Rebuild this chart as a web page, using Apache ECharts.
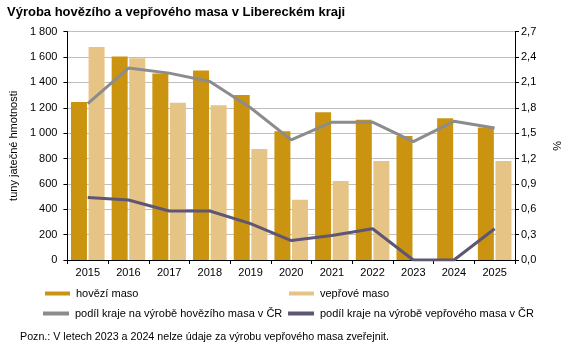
<!DOCTYPE html>
<html><head><meta charset="utf-8">
<script src="https://cdn.jsdelivr.net/npm/echarts@6/dist/echarts.min.js"></script>
<style>html,body{margin:0;padding:0;background:#fff}#c{width:570px;height:349px}</style>
</head><body><div id="c"></div>
<script>
const years = ['2015','2016','2017','2018','2019','2020','2021','2022','2023','2024','2025'];
const beefTons = [1245, 1605, 1470, 1495, 1300, 1015, 1165, 1105, 978, 1117, 1045];
const porkTons = [1680, 1590, 1240, 1220, 875, 475, 623, 781, null, null, 781];
const beefShare = [1.85, 2.27, 2.21, 2.11, 1.80, 1.42, 1.63, 1.63, 1.40, 1.64, 1.56];
const porkShare = [0.74, 0.71, 0.58, 0.58, 0.43, 0.23, 0.29, 0.37, 0, 0, 0.37];
const leftTicks = {min: 0, max: 1800, interval: 200};
const rightTicks = {min: 0, max: 2.7, interval: 0.3};

const FONT = '"Liberation Sans", Arial, sans-serif';
const C_BEEF = '#CA9410', C_PORK = '#E6C486', C_BL = '#8C8C8C', C_PL = '#5F5673';
const chart = echarts.init(document.getElementById('c'), null, {renderer: 'canvas'});
const legendBase = {itemWidth: 25, itemHeight: 4, icon: 'rect', itemGap: 10,
  textStyle: {fontFamily: FONT, fontSize: 11, color: '#000', padding: [0,0,0,1]}, padding: 0};
chart.setOption({
  animation: false,
  title: {text: 'Výroba hovězího a vepřového masa v Libereckém kraji', left: 7, top: 6, padding: 0,
    textStyle: {fontFamily: FONT, fontSize: 13, fontWeight: 'bold', color: '#000'}},
  grid: {left: 59, right: 51, top: 31.7, bottom: 89, containLabel: false},
  legend: [
    Object.assign({}, legendBase, {data: ['hovězí maso'], left: 45, top: 288}),
    Object.assign({}, legendBase, {data: ['vepřové maso'], left: 289, top: 288}),
    Object.assign({}, legendBase, {data: ['podíl kraje na výrobě hovězího masa v ČR'], left: 43, top: 308, itemWidth: 26}),
    Object.assign({}, legendBase, {data: ['podíl kraje na výrobě vepřového masa v ČR'], left: 288, top: 308, itemWidth: 26})
  ],
  graphic: [{type: 'text', left: 20, top: 332,
    style: {text: 'Pozn.: V letech 2023 a 2024 nelze údaje za výrobu vepřového masa zveřejnit.',
      font: '10.7px ' + FONT, fill: '#000'}}],
  xAxis: {type: 'category', data: years,
    axisLine: {lineStyle: {color: '#000', width: 1}},
    axisTick: {show: true, length: 4, lineStyle: {color: '#000'}},
    axisLabel: {fontFamily: FONT, fontSize: 11, color: '#000', margin: 7}},
  yAxis: [
    {type: 'value', min: leftTicks.min, max: leftTicks.max, interval: leftTicks.interval,
      name: 'tuny jatečné hmotnosti', nameLocation: 'middle', nameGap: 46, nameRotate: 90,
      nameTextStyle: {fontFamily: FONT, fontSize: 11, color: '#000'},
      axisLine: {show: true, lineStyle: {color: '#000'}},
      axisTick: {show: true, length: 4, lineStyle: {color: '#000'}},
      axisLabel: {fontFamily: FONT, fontSize: 11, color: '#000', margin: 10,
        formatter: v => String(v).replace(/\B(?=(\d{3})+(?!\d))/g, ' ')},
      splitLine: {show: true, lineStyle: {color: '#BFBFBF', width: 1}}},
    {type: 'value', min: rightTicks.min, max: rightTicks.max, interval: rightTicks.interval,
      name: '%', nameLocation: 'middle', nameGap: 36, nameRotate: -90,
      nameTextStyle: {fontFamily: FONT, fontSize: 11, color: '#000'},
      axisLine: {show: true, lineStyle: {color: '#000'}},
      axisTick: {show: true, length: 4, lineStyle: {color: '#000'}},
      axisLabel: {fontFamily: FONT, fontSize: 11, color: '#000', margin: 6,
        formatter: v => v.toFixed(1).replace('.', ',')},
      splitLine: {show: false}}
  ],
  series: [
    {name: 'hovězí maso', type: 'bar', data: beefTons, barWidth: 16, barGap: '10%',
      itemStyle: {color: C_BEEF}},
    {name: 'vepřové maso', type: 'bar', data: porkTons, barWidth: 16, barGap: '10%',
      itemStyle: {color: C_PORK}},
    {name: 'podíl kraje na výrobě hovězího masa v ČR', type: 'line', yAxisIndex: 1, data: beefShare,
      symbol: 'none', lineStyle: {color: C_BL, width: 3}, itemStyle: {color: C_BL}, z: 5},
    {name: 'podíl kraje na výrobě vepřového masa v ČR', type: 'line', yAxisIndex: 1, data: porkShare,
      symbol: 'none', lineStyle: {color: C_PL, width: 3}, itemStyle: {color: C_PL}, z: 5}
  ]
});
</script></body></html>
